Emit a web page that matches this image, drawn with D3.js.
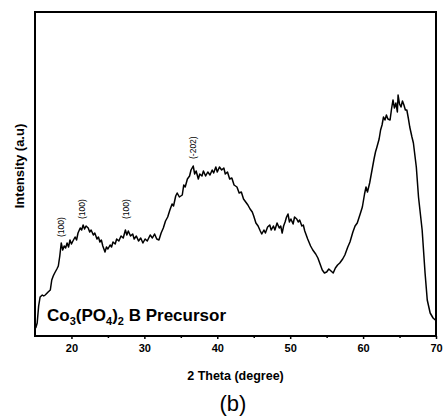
<!DOCTYPE html>
<html>
<head>
<meta charset="utf-8">
<script src="https://cdn.jsdelivr.net/npm/d3@7"></script>
<style>
  body { margin: 0; background: #fff; }
  text { font-family: "Liberation Sans", Arial, sans-serif; fill: #000; }
</style>
</head>
<body>
<div id="chart"></div>
<script>
// XRD pattern (2theta in degrees, intensity in a.u.)
var theta = [15.1, 15.3, 15.5, 15.7, 16.0, 16.2, 16.4, 16.8, 17.1, 17.3, 17.5, 17.7, 18.0, 18.2, 18.4,
  18.6, 18.8, 19.0, 19.2, 19.4, 19.6, 19.8, 20.0, 20.2, 20.5, 20.7, 20.9, 21.2, 21.4, 21.6, 21.8, 22.0, 22.3,
  22.5, 22.7, 23.0, 23.2, 23.5, 23.7, 23.9, 24.1, 24.3, 24.6, 24.8, 25.0, 25.3, 25.5, 25.7, 26.0, 26.2, 26.5,
  26.8, 27.1, 27.4, 27.6, 27.8, 28.1, 28.4, 28.6, 28.9, 29.2, 29.5, 29.8, 30.1, 30.4, 30.8, 31.1, 31.4, 31.7,
  32.0, 32.3, 32.6, 32.9, 33.2, 33.5, 33.8, 34.0, 34.3, 34.5, 34.8, 35.2, 35.4, 35.6, 35.9, 36.2, 36.4, 36.7,
  36.9, 37.1, 37.4, 37.6, 37.9, 38.1, 38.4, 38.7, 39.0, 39.3, 39.5, 39.8, 40.0, 40.3, 40.6, 40.9, 41.1, 41.4,
  41.7, 42.0, 42.3, 42.7, 43.0, 43.3, 43.6, 43.9, 44.2, 44.5, 44.8, 45.0, 45.3, 45.6, 45.9, 46.1, 46.4, 46.6,
  46.9, 47.2, 47.4, 47.7, 47.9, 48.2, 48.5, 48.7, 48.9, 49.1, 49.3, 49.5, 49.7, 49.9, 50.1, 50.4, 50.6, 50.9,
  51.1, 51.3, 51.6, 51.8, 52.0, 52.4, 52.8, 53.1, 53.5, 53.8, 54.1, 54.4, 54.7, 55.0, 55.3, 55.6, 55.9, 56.2,
  56.5, 56.8, 57.2, 57.5, 57.9, 58.2, 58.6, 58.9, 59.2, 59.6, 59.9, 60.2, 60.4, 60.6, 60.9, 61.2, 61.5, 61.7,
  61.9, 62.2, 62.4, 62.6, 62.8, 63.0, 63.2, 63.4, 63.7, 63.9, 64.1, 64.3, 64.5, 64.7, 64.8, 65.0, 65.2, 65.4,
  65.6, 65.8, 66.0, 66.2, 66.4, 66.7, 66.9, 67.3, 67.6, 68.1, 68.5, 68.8, 69.2, 69.6, 69.9];
var intensity = [8, 13, 30, 39, 41, 40, 41, 44, 46, 56, 60, 63, 67, 70, 80,
  93, 86, 90, 88, 93, 89, 96, 92, 95, 99, 96, 103, 108, 106, 111, 107, 110, 108,
  104, 106, 101, 103, 97, 99, 94, 96, 90, 84, 89, 87, 91, 89, 94, 92, 97, 95,
  100, 98, 106, 101, 105, 100, 102, 97, 100, 95, 98, 93, 97, 95, 101, 98, 102, 97,
  96, 103, 108, 115, 119, 126, 132, 130, 140, 143, 139, 141, 151, 149, 157, 160, 166, 170,
  162, 165, 157, 162, 160, 165, 160, 164, 161, 166, 163, 169, 164, 169, 166, 168, 162, 164,
  157, 158, 151, 149, 143, 144, 137, 134, 131, 127, 124, 120, 113, 110, 105, 102, 106, 103,
  109, 111, 106, 110, 106, 113, 108, 110, 103, 110, 114, 119, 122, 114, 117, 112, 119, 117,
  114, 116, 110, 111, 105, 97, 90, 86, 82, 78, 72, 66, 63, 64, 67, 65, 63, 68,
  71, 73, 77, 81, 89, 94, 104, 110, 113, 122, 129, 142, 149, 144, 153, 165, 177, 184,
  189, 197, 206, 211, 219, 216, 221, 217, 216, 227, 236, 228, 233, 224, 241, 232, 229, 235,
  231, 226, 226, 218, 209, 199, 193, 169, 139, 106, 63, 36, 23, 18, 16];
var xTicks = [20, 30, 40, 50, 60, 70];
var xMinor = [25, 35, 45, 55, 65];
var peakTheta = [18.6, 21.4, 27.5, 36.7];
var peakLabel = ["(100)", "(100)", "(100)", "(-202)"];
var peakAt = [96, 114, 114, 174];

var width = 443, height = 417;
var margin = {top: 12, right: 7, bottom: 81, left: 35};
var w = width - margin.left - margin.right,
    h = height - margin.top - margin.bottom;

var svg = d3.select("#chart").append("svg")
    .attr("width", width)
    .attr("height", height);

var g = svg.append("g")
    .attr("transform", "translate(" + margin.left + "," + margin.top + ")");

var x = d3.scaleLinear().domain([15, 70]).range([0, w]);
var y = d3.scaleLinear().domain([0, 324]).range([h, 0]);

var data = theta.map(function(t, i) { return {t: t, v: intensity[i]}; });

var line = d3.line()
    .x(function(d) { return x(d.t); })
    .y(function(d) { return y(d.v); });

g.append("path")
    .datum(data)
    .attr("fill", "none")
    .attr("stroke", "#000")
    .attr("stroke-width", 1.5)
    .attr("stroke-linejoin", "round")
    .attr("d", line);

// frame
g.append("rect")
    .attr("width", w)
    .attr("height", h)
    .attr("fill", "none")
    .attr("stroke", "#000")
    .attr("stroke-width", 2);

// x axis
var xAxis = g.append("g")
    .attr("transform", "translate(0," + h + ")")
    .call(d3.axisBottom(x).tickValues(xTicks).tickSize(3).tickPadding(5).tickFormat(d3.format("d")));
xAxis.select(".domain").remove();
xAxis.selectAll("text")
    .attr("font-size", 11)
    .attr("font-weight", "bold")
    .attr("font-family", "Liberation Sans, Arial, sans-serif");
xAxis.selectAll("line").attr("stroke-width", 1.5);

g.append("g")
    .attr("transform", "translate(0," + h + ")")
    .call(d3.axisBottom(x).tickValues(xMinor).tickSize(2).tickFormat(""))
    .call(function(s) { s.select(".domain").remove(); s.selectAll("line").attr("stroke-width", 1.5); });

// peak labels
peakTheta.forEach(function(t, i) {
    var px = x(t), py = y(peakAt[i]) - 3;
    g.append("text")
        .attr("transform", "translate(" + (px + 3) + "," + py + ") rotate(-90)")
        .attr("font-size", 8.5)
        .attr("fill", "#000")
        .text(peakLabel[i]);
});

// sample name
var lab = g.append("text")
    .attr("x", 12)
    .attr("y", 309)
    .attr("font-size", 17)
    .attr("font-weight", "bold");
lab.append("tspan").text("Co");
lab.append("tspan").attr("font-size", 11).attr("dy", 4).text("3");
lab.append("tspan").attr("dy", -4).text("(PO");
lab.append("tspan").attr("font-size", 11).attr("dy", 4).text("4");
lab.append("tspan").attr("dy", -4).text(")");
lab.append("tspan").attr("font-size", 11).attr("dy", 4).text("2");
lab.append("tspan").attr("dy", -4).text(" B Precursor");

// axis titles
svg.append("text")
    .attr("x", margin.left + w / 2)
    .attr("y", 380)
    .attr("text-anchor", "middle")
    .attr("font-size", 12.5)
    .attr("font-weight", "bold")
    .text("2 Theta (degree)");

svg.append("text")
    .attr("transform", "translate(24,166) rotate(-90)")
    .attr("text-anchor", "middle")
    .attr("font-size", 13)
    .attr("font-weight", "bold")
    .text("Intensity (a.u)");

svg.append("text")
    .attr("x", 233)
    .attr("y", 411)
    .attr("text-anchor", "middle")
    .attr("font-size", 22)
    .attr("font-family", "Liberation Serif, serif")
    .text("(b)");
</script>
</body>
</html>
